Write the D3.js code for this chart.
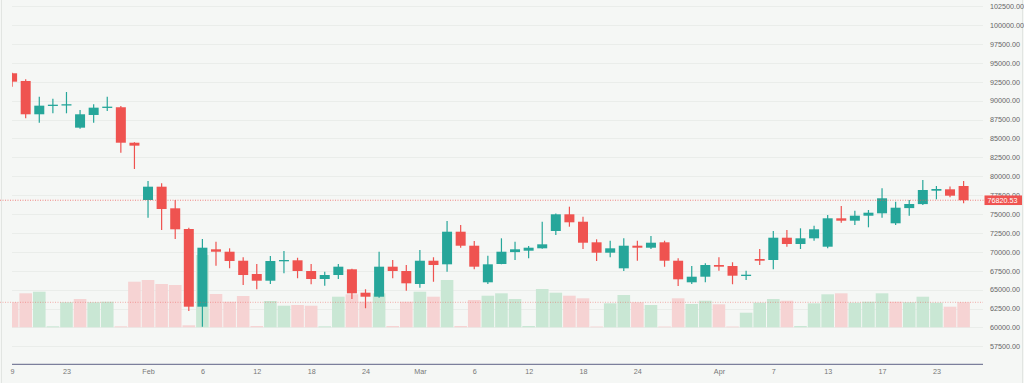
<!DOCTYPE html>
<html>
<head>
<meta charset="utf-8">
<script src="https://cdn.jsdelivr.net/npm/d3@7"></script>
<style>
  html, body { margin: 0; padding: 0; background: #f5f7f5; }
  svg { display: block; }
  text { font-family: "Liberation Sans", Arial, sans-serif; }
</style>
</head>
<body>
<svg id="chart" width="1024" height="383"></svg>
<script>
// ---- data (candle index = category) ----
const candleIndex = d3.range(71);
const opens  = [93614,92596,88190,89355,89420,86420,88100,89050,89120,84430,
                76852,78612,75754,73016,62740,70330,70012,68820,67062,66176,
                68820,68875,67460,66401,66930,67685,64590,64060,68030,67460,
                65740,68820,68345,72658,70806,65965,68385,69960,70145,70462,
                72751,74960,73980,71256,69880,67816,70806,70542,71256,68820,
                65965,66706,68253,68120,66838,69047,68915,71864,71031,71785,
                70674,74431,74114,74775,75093,73770,75780,76310,78082,78267,
                78704];
const highs  = [93700,92820,90520,90254,91140,88760,89510,90520,89290,84500,
                79366,79060,76852,73188,71692,71335,70462,69270,68385,69442,
                70104,69217,68385,67367,68385,67750,65038,70012,68915,68253,
                70236,69270,74074,73545,71428,69482,71785,71335,70766,73980,
                75050,75966,74643,71653,71468,71785,71468,72090,71468,69137,
                68120,68478,69270,68610,67500,70370,72751,72883,73108,73452,
                74868,76058,75437,75529,78400,76627,76852,79498,78704,78638,
                79366];
const lows   = [91842,87660,87080,88322,88322,86290,87080,88630,83110,80950,
                74510,72883,71692,62170,60090,68160,67816,65607,65038,65740,
                67155,66494,65700,65514,66401,63755,62525,63930,66494,64853,
                65250,66045,67367,70542,67685,65740,68345,68915,69137,70400,
                72222,73320,70370,68782,69270,67460,68820,70370,68030,65475,
                65740,65965,67500,65700,66270,68253,67685,70674,70370,71468,
                70462,73850,73545,73240,74510,73545,74775,76190,76945,77209,
                76415];
const closes = [92503,88190,89330,89460,89520,88190,89065,89200,84430,84040,
                78612,75660,72976,62740,70542,70012,68782,66930,66176,68782,
                68915,67460,66401,66930,68030,64510,64060,68030,67460,65832,
                68820,68253,72658,70806,68030,68345,70012,70330,70542,70990,
                74960,73902,71202,69880,70462,70806,70542,71202,68820,66361,
                66706,68253,68030,66838,66970,68820,71864,71031,71785,72976,
                74431,74114,74775,75172,77077,75833,76323,78175,78307,77420,
                76820.53];
const volumes = [25,34,35.6,1,25,28.3,25,25.6,1,45.6,
                 47.3,43.3,42.3,2,72.3,33.3,25.6,31.3,1.3,26.3,
                 21.6,22.3,21.6,1,30.6,33,25.6,34,1.3,25.6,
                 35.6,30.6,47.3,1.3,27.3,31.6,34,28.3,1.3,38.3,
                 34.6,31.6,29,0.8,24,32.3,25,22.3,0.8,29,
                 23.3,26.6,23,0.8,14.6,24.6,28.3,26.6,1.3,24,
                 33,34,24.6,25.6,34,25.6,25,30.6,24.6,20.6,
                 25];
const xTickIndex  = [0,4,10,14,18,22,26,30,34,38,42,46,52,56,60,64,68];
const xTickLabels = ["9","23","Feb","6","12","18","24","Mar","6","12","18","24","Apr","7","13","17","23"];
const priceTicks  = d3.range(57500, 102501, 2500);

// ---- layout ----
const svg = d3.select("#chart");
const W = 1024, H = 383;
const plotL = 12, plotR = 983, axisY = 364.3;
const UP = "#26a69a", DOWN = "#ef5350";

const x = d3.scaleLinear().domain([0, 70]).range([12.1, 963.6]);
const y = d3.scaleLinear().domain([75000, 100000]).range([214, 25]);
const yv = d3.scaleLinear().domain([0, 100]).range([327.3, 227.3]);

svg.append("rect").attr("width", W).attr("height", H).attr("fill", "#f5f7f5");

svg.append("defs").append("clipPath").attr("id", "plotClip")
  .append("rect").attr("x", plotL).attr("y", 0).attr("width", plotR - plotL).attr("height", axisY);

// gridlines
svg.append("g").selectAll("line").data(priceTicks).join("line")
  .attr("x1", plotL).attr("x2", plotR)
  .attr("y1", d => Math.round(y(d)) + 0.5).attr("y2", d => Math.round(y(d)) + 0.5)
  .attr("stroke", "#eaedea").attr("stroke-width", 1);

// borders
svg.append("line").attr("x1", 1.5).attr("x2", 1.5).attr("y1", 0).attr("y2", H)
  .attr("stroke", "#e2e5e2");
svg.append("line").attr("x1", 1022.5).attr("x2", 1022.5).attr("y1", 0).attr("y2", H)
  .attr("stroke", "#e2e5e2");

const plot = svg.append("g").attr("clip-path", "url(#plotClip)");

// volume bars
const bw = 12.6;
plot.append("g").selectAll("rect").data(candleIndex).join("rect")
  .attr("x", i => x(i) - bw / 2)
  .attr("width", bw)
  .attr("y", i => yv(volumes[i]))
  .attr("height", i => yv(0) - yv(volumes[i]))
  .attr("fill", i => (i > 0 && closes[i] >= closes[i - 1]) ? "#c9e7d4" : "#f6d3d3");

// last-volume dotted line
svg.append("line").attr("x1", 0).attr("x2", plotR)
  .attr("y1", yv(volumes[70])).attr("y2", yv(volumes[70]))
  .attr("stroke", "#ef5350").attr("stroke-opacity", 0.45)
  .attr("stroke-dasharray", "1,1.5");

// candles
const cg = plot.append("g");
const colorOf = i => closes[i] >= opens[i] ? UP : DOWN;
cg.selectAll("line").data(candleIndex).join("line")
  .attr("x1", i => x(i)).attr("x2", i => x(i))
  .attr("y1", i => y(highs[i])).attr("y2", i => y(lows[i]))
  .attr("stroke", colorOf).attr("stroke-width", 1.2);
const cw = 10;
cg.selectAll("rect").data(candleIndex).join("rect")
  .attr("x", i => x(i) - cw / 2)
  .attr("width", cw)
  .attr("y", i => y(Math.max(opens[i], closes[i])))
  .attr("height", i => Math.max(1.3, Math.abs(y(opens[i]) - y(closes[i]))))
  .attr("fill", colorOf);

// last-price dotted line
const lastP = closes[70];
svg.append("line").attr("x1", 0).attr("x2", 984)
  .attr("y1", y(lastP)).attr("y2", y(lastP))
  .attr("stroke", "#ef5350").attr("stroke-opacity", 0.7)
  .attr("stroke-dasharray", "1,1.5");

// price axis
const yAxis = d3.axisRight(y).tickValues(priceTicks).tickFormat(d3.format(".2f"))
  .tickSize(0).tickPadding(6);
const gy = svg.append("g").attr("transform", "translate(984,0)").call(yAxis);
gy.select(".domain").remove();
gy.selectAll("text").attr("font-size", 7.2).attr("fill", "#666").attr("font-family", "Liberation Sans, Arial, sans-serif");

// last price label
const lp = svg.append("g").attr("transform", `translate(984.5, ${y(lastP)})`);
lp.append("rect").attr("x", 0).attr("y", -4.8).attr("width", 37.5).attr("height", 9.6).attr("fill", DOWN);
lp.append("text").attr("x", 3).attr("y", 0).attr("dy", "0.34em")
  .attr("font-size", 7.2).attr("fill", "#fff").text(d3.format(".2f")(lastP));

// time axis
svg.append("line").attr("x1", plotL).attr("x2", plotR).attr("y1", axisY).attr("y2", axisY)
  .attr("stroke", "#7c7f9c").attr("stroke-width", 1.2);
const xAxis = d3.axisBottom(x).tickValues(xTickIndex)
  .tickFormat((d, k) => xTickLabels[k]).tickSize(0).tickPadding(5);
const gx = svg.append("g").attr("transform", `translate(0,${axisY})`).call(xAxis);
gx.select(".domain").remove();
gx.selectAll("text").attr("font-size", 7.2).attr("fill", "#777").attr("font-family", "Liberation Sans, Arial, sans-serif");
</script>
</body>
</html>
